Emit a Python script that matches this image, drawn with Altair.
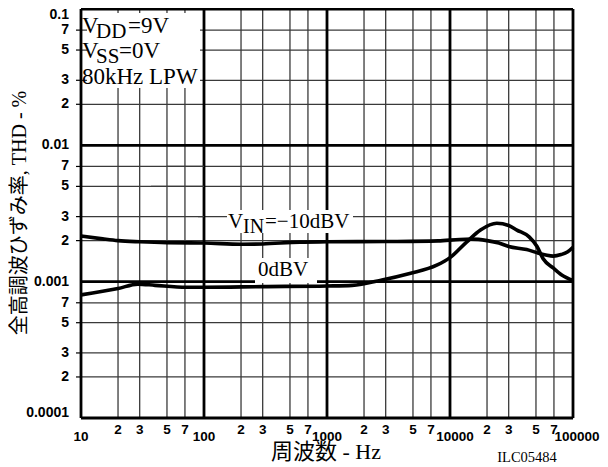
import altair as alt
import pandas as pd

# ---- data ----
freq_hi = [10, 15, 20, 30, 50, 100, 200, 300, 600, 1000, 3000, 8000, 12000, 15000,
           20000, 25000, 30000, 42000, 50000, 60000, 69000, 80000, 90000, 100000]
thd_hi = [0.00216, 0.00206, 0.00200, 0.00196, 0.00193, 0.00192, 0.00188, 0.00189, 0.00195,
          0.00196, 0.00197, 0.00199, 0.00204, 0.00205, 0.00200, 0.00192, 0.00181, 0.00172,
          0.00164, 0.00157, 0.00154, 0.00158, 0.00165, 0.00179]

freq_lo = [10, 20, 29, 40, 72, 100, 300, 1000, 1600, 2800, 4700, 7800, 10000, 13700,
           17700, 24000, 30000, 35000, 44000, 51000, 57000, 69000, 81000, 100000]
thd_lo = [0.00080, 0.00089, 0.00096, 0.00094, 0.00091, 0.00091, 0.00092, 0.00093, 0.00094,
          0.00103, 0.00115, 0.00132, 0.00150, 0.00196, 0.00239, 0.00268, 0.00258, 0.00239,
          0.00213, 0.00181, 0.00148, 0.00126, 0.00112, 0.00102]

x_decades = [10, 100, 1000, 10000, 100000]
x_decade_labels = ["10", "100", "1000", "10000", "100000"]
x_minor = [20, 30, 50, 70, 200, 300, 500, 700, 2000, 3000, 5000, 7000,
           20000, 30000, 50000, 70000]
x_minor_labels = ["2", "3", "5", "7"] * 4

y_decades = [0.0001, 0.001, 0.01, 0.1]
y_decade_labels = ["0.0001", "0.001", "0.01", "0.1"]
y_minor = [0.0002, 0.0003, 0.0005, 0.0007, 0.002, 0.003, 0.005, 0.007,
           0.02, 0.03, 0.05, 0.07]
y_minor_labels = ["2", "3", "5", "7"] * 3

W, H = 492, 409
xs = alt.Scale(type="log", domain=[10, 100000], nice=False)
ys = alt.Scale(type="log", domain=[0.0001, 0.1], nice=False)

curves = pd.DataFrame({
    "f": freq_hi + freq_lo,
    "thd": thd_hi + thd_lo,
    "s": ["-10dBV"] * len(freq_hi) + ["0dBV"] * len(freq_lo),
})
xd = pd.DataFrame({"f": x_decades, "t": x_decade_labels})
xm = pd.DataFrame({"f": x_minor, "t": x_minor_labels})
yd = pd.DataFrame({"v": y_decades, "t": y_decade_labels})
ym = pd.DataFrame({"v": y_minor, "t": y_minor_labels})
one = pd.DataFrame({"k": [0]})

X = lambda: alt.X("f:Q", scale=xs, axis=None)
Y = lambda: alt.Y("v:Q", scale=ys, axis=None)

GRID_MINOR = "#3a3a3a"
LABEL_FONT = "Liberation Sans"
SERIF = "Liberation Serif, 'Noto Sans CJK JP'"

vminor = alt.Chart(xm).mark_rule(color=GRID_MINOR, strokeWidth=1.3).encode(x=X())
hminor = alt.Chart(ym).mark_rule(color=GRID_MINOR, strokeWidth=1.2).encode(y=Y())
vmaj = alt.Chart(xd).mark_rule(color="black", strokeWidth=2.8).encode(x=X())
hmaj = alt.Chart(yd).mark_rule(color="black", strokeWidth=2.8).encode(y=Y())
yticks = alt.Chart(ym).mark_rule(color="black", strokeWidth=1.2).encode(
    y=Y(), x=alt.value(-5), x2=alt.value(0))


def wrect(x0, x1, y0, y1):
    return alt.Chart(one).mark_rect(color="white").encode(
        x=alt.value(x0), x2=alt.value(x1), y=alt.value(y0), y2=alt.value(y1))


def seg(val, x0, x1):
    return alt.Chart(ym[ym["t"] == val].head(2).tail(1)).mark_rule(
        color=GRID_MINOR, strokeWidth=1.2).encode(y=Y(), x=alt.value(x0), x2=alt.value(x1))


box = wrect(6, 119, 4, 79)
seg1 = seg("7", 86, 123)
seg2 = seg("5", 70, 123)
seg3 = seg("3", 117, 123)
vin_box = wrect(146, 272, 201, 224)
odb_box = wrect(174, 236, 249, 274)

lines = alt.Chart(curves).mark_line(color="black", strokeWidth=3.6, interpolate="monotone").encode(
    x=alt.X("f:Q", scale=xs, axis=None),
    y=alt.Y("thd:Q", scale=ys, axis=None),
    detail="s:N",
)


def lab(df, enc_axis, pos, align, dx=0, dy=0, size=14):
    m = alt.Chart(df).mark_text(font=LABEL_FONT, fontSize=size, fontWeight="bold",
                                baseline="middle", align=align, dx=dx, dy=dy, color="black")
    if enc_axis == "x":
        return m.encode(x=X(), y=alt.value(pos), text="t:N")
    return m.encode(y=Y(), x=alt.value(pos), text="t:N")


xminlab = lab(xm, "x", 421, "center", size=13.5)
xdec_a = lab(xd[xd["t"].isin(["10", "100", "1000"])], "x", 428, "center", size=13.5)
xdec_b = lab(xd[xd["t"] == "10000"], "x", 428, "center", dx=5, size=13.5)
xdec_c = lab(xd[xd["t"] == "100000"], "x", 428, "center", dx=4, size=13.5)
ydeclab = lab(yd[yd["t"].isin(["0.001", "0.01"])], "y", -12, "right")
ytop = lab(yd[yd["t"] == "0.1"], "y", -12, "right", dy=6)
ybot = lab(yd[yd["t"] == "0.0001"], "y", -12, "right", dy=-5)
yminlab = lab(ym, "y", -12, "right")


def txt(s, x, y, size=23, align="left", baseline="alphabetic", angle=0, font=SERIF):
    return alt.Chart(one).mark_text(font=font, fontSize=size, align=align, baseline=baseline,
                                    color="black", angle=angle).encode(
        x=alt.value(x), y=alt.value(y), text=alt.value(s))


annot = [
    txt("V", 1, 24), txt("DD", 15, 29, size=21), txt("=9V", 47, 24),
    txt("V", 1, 49), txt("SS", 15, 54, size=21), txt("=0V", 38, 49),
    txt("80kHz LPW", 1, 75),
    txt("V", 147, 219, size=21), txt("IN", 162, 224, size=20), txt("=\u221210dBV", 184, 219, size=21),
    txt("0dBV", 177, 267, size=21),
    txt("全高調波ひずみ率, THD - %", -61, 204, size=20, align="center", baseline="middle", angle=270),
    txt("周波数 - Hz", 245, 443, size=22, align="center", baseline="middle"),
    txt("ILC05484", 446, 449, size=14.5, align="center", baseline="middle"),
]

chart = alt.layer(
    vminor, hminor, vmaj, hmaj, yticks,
    box, seg1, seg2, seg3, vin_box, odb_box,
    lines,
    xminlab, xdec_a, xdec_b, xdec_c, ydeclab, ytop, ybot, yminlab,
    *annot,
).properties(
    width=W, height=H,
    padding={"left": 73, "top": 1, "right": 27, "bottom": 49},
    autosize=alt.AutoSizeParams(type="none"),
).configure_view(stroke=None).configure(background="white")

chart.save("out.html", embed_options={"renderer": "svg", "actions": False})
